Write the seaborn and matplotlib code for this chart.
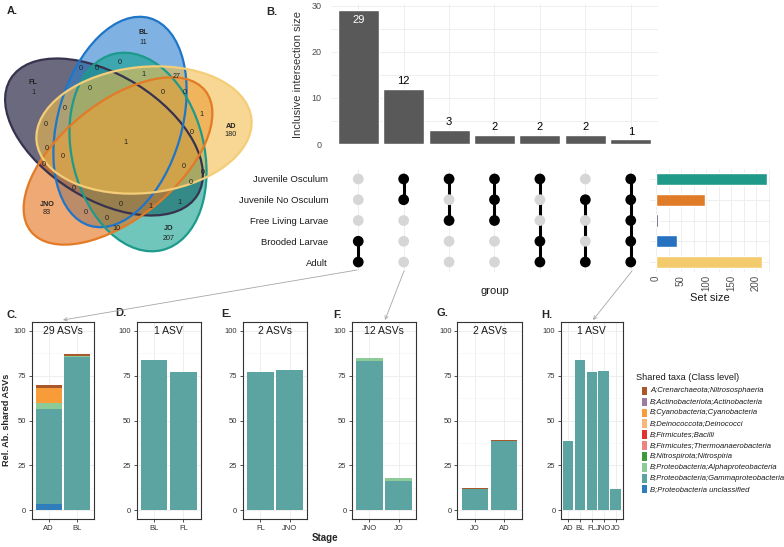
import matplotlib.pyplot as plt
from matplotlib.patches import Ellipse, Rectangle
import pandas as pd
import seaborn as sns

W, H = 784, 547

# ---------- data ----------
# A. Venn diagram of ASVs per life stage
venn_sets = ['FL', 'BL', 'AD', 'JNO', 'JO']
venn_unique = [1, 11, 180, 83, 207]
venn_shared = [0, 0, 0, 1, 27, 0, 0, 0, 0, 1, 0, 0, 1, 0, 0, 0, 0, 0, 0, 0, 0,
               1, 1, 0, 0, 10]

# B. UpSet plot
upset_rows = ['Juvenile Osculum', 'Juvenile No Osculum', 'Free Living Larvae',
              'Brooded Larvae', 'Adult']
upset_sizes = [29, 12, 3, 2, 2, 2, 1]
upset_members = [
    ['Brooded Larvae', 'Adult'],
    ['Juvenile Osculum', 'Juvenile No Osculum'],
    ['Juvenile Osculum', 'Free Living Larvae'],
    ['Juvenile Osculum', 'Juvenile No Osculum', 'Free Living Larvae'],
    ['Juvenile Osculum', 'Brooded Larvae', 'Adult'],
    ['Juvenile No Osculum', 'Adult'],
    ['Juvenile Osculum', 'Juvenile No Osculum', 'Free Living Larvae',
     'Brooded Larvae', 'Adult'],
]
set_sizes = [221, 97, 4, 42, 211]

# C-H. relative abundance of shared ASVs
taxa = ['A;Crenarchaeota;Nitrososphaeria', 'B;Actinobacteriota;Actinobacteria',
        'B;Cyanobacteria;Cyanobacteria', 'B;Deinococcota;Deinococci',
        'B;Firmicutes;Bacilli', 'B;Firmicutes;Thermoanaerobacteria',
        'B;Nitrospirota;Nitrospiria', 'B;Proteobacteria;Alphaproteobacteria',
        'B;Proteobacteria;Gammaproteobacteria', 'B;Proteobacteria unclassified']
taxa_colors = ['#a9582a', '#9c7ca0', '#f89c3a', '#f9b878', '#e3312e',
               '#f08282', '#3e9a3a', '#8ccb98', '#5ba4a1', '#2f7dba']

c_stages = ['AD', 'BL']
c_crenarch = [1.8, 1.1]
c_cyano = [8.3, 0.0]
c_alpha = [3.4, 0.8]
c_gamma = [53.3, 85.4]
c_unclass = [3.3, 0.0]

d_stages = ['BL', 'FL']
d_gamma = [84.0, 77.0]

e_stages = ['FL', 'JNO']
e_gamma = [77.3, 78.0]

f_stages = ['JNO', 'JO']
f_alpha = [1.7, 2.0]
f_gamma = [83.3, 16.1]

g_stages = ['JO', 'AD']
g_crenarch = [0.7, 0.7]
g_gamma = [11.7, 38.3]

h_stages = ['AD', 'BL', 'FL', 'JNO', 'JO']
h_gamma = [38.3, 83.9, 77.2, 77.8, 12.0]

panel_titles = ['29 ASVs', '1 ASV', '2 ASVs', '12 ASVs', '2 ASVs', '1 ASV']

# ---------- style ----------
sns.set_theme(style='white')
plt.rcParams['font.family'] = ['Liberation Sans', 'DejaVu Sans']

venn_edge = ['#37334f', '#1f76c8', '#f4cd78', '#e27a26', '#1d9a8b']
venn_fill = ['#1c1838', '#2a7fcf', '#f2bd4c', '#e5711a', '#12a08e']
venn_alpha = [0.65, 0.6, 0.6, 0.6, 0.6]
venn_draw_order = [0, 1, 4, 3, 2]
set_colors = ['#1f9a89', '#e07b28', '#2c2945', '#2672c0', '#f3cb6d']

# layout in pixels: ellipse (cx, cy, semi-major, semi-minor, angle)
venn_shapes = [(104, 137, 110, 62, 32), (120, 122, 108, 62, -74),
               (144, 130, 108, 63, -6), (118, 161, 112, 58, -39),
               (138, 152, 101, 66, 76)]
venn_set_spots = [(33, 83), (143, 33), (231, 126), (47, 204), (169, 229)]
venn_shared_spots = [(120, 62), (81, 69), (97, 69), (143, 75), (177, 77),
                     (90, 88), (163, 92), (185, 93), (65, 109), (201, 115),
                     (46, 125), (192, 132), (125, 142), (47, 148), (63, 157),
                     (44, 164), (184, 166), (203, 172), (191, 183), (74, 188),
                     (121, 204), (150, 207), (179, 203), (86, 212), (107, 219),
                     (116, 228)]

fig = plt.figure(figsize=(W / 100, H / 100), dpi=100)


def px_axes(x0, y0, x1, y1):
    return fig.add_axes([x0 / W, 1 - y1 / H, (x1 - x0) / W, (y1 - y0) / H])


# overlay in pixel coordinates for venn, letters, arrows and legend
ov = px_axes(0, 0, W, H)
ov.set_xlim(0, W)
ov.set_ylim(H, 0)
ov.axis('off')
ov.patch.set_alpha(0)
ov.set_zorder(5)

# ---------- A. Venn ----------
for k in venn_draw_order:
    cx, cy, a, b, ang = venn_shapes[k]
    ov.add_patch(Ellipse((cx, cy), 2 * a, 2 * b, angle=ang, facecolor=venn_fill[k],
                         alpha=venn_alpha[k], edgecolor='none'))
for k in venn_draw_order:
    cx, cy, a, b, ang = venn_shapes[k]
    ov.add_patch(Ellipse((cx, cy), 2 * a, 2 * b, angle=ang, fill=False,
                         edgecolor=venn_edge[k], lw=1.6))
for name, n, (x, y) in zip(venn_sets, venn_unique, venn_set_spots):
    ov.text(x, y, name, ha='center', va='center', fontsize=5.2, fontweight='bold', color='#222222')
    ov.text(x, y + 9, str(n), ha='center', va='center', fontsize=5.2, color='#222222')
for n, (x, y) in zip(venn_shared, venn_shared_spots):
    ov.text(x, y, str(n), ha='center', va='center', fontsize=5.2, color='#222222')

# ---------- B. UpSet ----------
cols = list(range(len(upset_sizes)))
ax_b = px_axes(331, 4, 658, 144)
sns.barplot(x=cols, y=upset_sizes, order=cols, color='#595959', saturation=1,
            width=0.9, errorbar=None, ax=ax_b, zorder=2)
for i, v in zip(cols, upset_sizes):
    if v > 20:
        ax_b.text(i, v - 1.0, str(v), ha='center', va='top', color='white', fontsize=8)
    else:
        ax_b.text(i, v + 0.6, str(v), ha='center', va='bottom', color='black', fontsize=8)
ax_b.set_xlim(-0.6, 6.6)
ax_b.set_ylim(0, 30.4)
ax_b.set_yticks([0, 10, 20, 30])
ax_b.set_yticks([5, 15, 25], minor=True)
ax_b.set_xticks(cols)
ax_b.set_xticklabels([])
ax_b.grid(True, which='both', color='#ebebeb', lw=0.6)
ax_b.set_axisbelow(True)
ax_b.tick_params(length=0, labelsize=6.5, labelcolor='#4d4d4d', pad=7)
ax_b.set_ylabel('Inclusive intersection size', fontsize=8, color='#333333', labelpad=6)
ax_b.set_xlabel('')
sns.despine(ax=ax_b, left=True, bottom=True)

# matrix
ax_m = px_axes(331, 168.6, 658, 272.4)
cells = pd.DataFrame([(c, r, upset_rows[r] in upset_members[c])
                      for c in cols for r in range(len(upset_rows))],
                     columns=['col', 'row', 'member'])
for c in cols:
    rows_in = [upset_rows.index(m) for m in upset_members[c]]
    if len(rows_in) > 1:
        ax_m.plot([c, c], [min(rows_in), max(rows_in)], color='black', lw=2.2, zorder=2)
sns.scatterplot(data=cells, x='col', y='row', hue='member',
                palette={False: '#d6d6d6', True: 'black'}, s=60, linewidth=0,
                legend=False, ax=ax_m, zorder=3)
ax_m.set_xlim(-0.6, 6.6)
ax_m.set_ylim(4.5, -0.5)
ax_m.set_xticks(cols)
ax_m.set_xticklabels([])
ax_m.set_yticks(range(len(upset_rows)))
ax_m.set_yticklabels(upset_rows)
ax_m.grid(True, axis='x', color='#ebebeb', lw=0.6)
ax_m.set_axisbelow(True)
ax_m.tick_params(length=0, labelsize=6.8, labelcolor='#1a1a1a', pad=2)
ax_m.set_ylabel('')
ax_m.set_xlabel('group', fontsize=8, color='#1a1a1a', labelpad=8)
sns.despine(ax=ax_m, left=True, bottom=True)

# set size
ax_s = px_axes(650, 168.6, 770, 272.4)
sns.barplot(x=set_sizes, y=upset_rows, hue=upset_rows, palette=set_colors,
            saturation=1, width=0.6, orient='h', legend=False, errorbar=None,
            ax=ax_s, zorder=2)
ax_s.set_xlim(-12, 228)
ax_s.set_ylim(4.5, -0.5)
ax_s.set_xticks([0, 50, 100, 150, 200])
ax_s.set_xticks([25, 75, 125, 175, 225], minor=True)
ax_s.set_yticks(range(len(upset_rows)))
ax_s.set_yticklabels([])
ax_s.grid(True, which='both', color='#ebebeb', lw=0.6)
ax_s.set_axisbelow(True)
ax_s.tick_params(length=0, labelsize=7, labelcolor='#4d4d4d', pad=2)
ax_s.tick_params(axis='x', labelrotation=90)
ax_s.set_ylabel('')
ax_s.set_xlabel('Set size', fontsize=8, color='#1a1a1a', labelpad=1)
sns.despine(ax=ax_s, left=True, bottom=True)

# ---------- C-H. stacked relative abundance ----------
panels = [
    (c_stages, [(0, c_crenarch), (2, c_cyano), (7, c_alpha), (8, c_gamma), (9, c_unclass)]),
    (d_stages, [(8, d_gamma)]),
    (e_stages, [(8, e_gamma)]),
    (f_stages, [(7, f_alpha), (8, f_gamma)]),
    (g_stages, [(0, g_crenarch), (8, g_gamma)]),
    (h_stages, [(8, h_gamma)]),
]
panel_boxes = [(31.7, 94.3), (136.7, 201), (242.7, 307.3), (352, 416),
               (457.3, 521.7), (561, 622.7)]
panel_letters = ['C.', 'D.', 'E.', 'F.', 'G.', 'H.']
letter_spots = [(7, 315), (115, 313), (221, 314), (333, 315), (437, 313), (541, 315)]

for (stages, layers), (x0, x1), title in zip(panels, panel_boxes, panel_titles):
    ax = px_axes(x0, 322, x1, 519)
    df = pd.DataFrame({taxa[t]: v for t, v in layers}, index=stages)
    tops = df[df.columns[::-1]].cumsum(axis=1)
    for t, _ in layers:
        sns.barplot(x=stages, y=list(tops[taxa[t]]), order=stages,
                    color=taxa_colors[t], saturation=1, width=0.9,
                    errorbar=None, linewidth=0, ax=ax, zorder=2)
    ax.set_xlim(-0.6, len(stages) - 0.4)
    ax.set_ylim(-5, 105)
    ax.set_yticks([0, 25, 50, 75, 100])
    ax.set_yticks([12.5, 37.5, 62.5, 87.5], minor=True)
    ax.grid(True, which='major', color='#ebebeb', lw=0.6)
    ax.grid(True, which='minor', color='#f3f3f3', lw=0.4)
    ax.set_axisbelow(True)
    ax.tick_params(axis='both', which='major', length=2.5, width=0.6,
                   color='#333333', labelsize=5.5, labelcolor='#333333', pad=1.5)
    ax.tick_params(which='minor', length=0)
    ax.tick_params(axis='x', bottom=True)
    ax.tick_params(axis='y', left=True)
    for sp in ax.spines.values():
        sp.set_visible(True)
        sp.set_color('#333333')
        sp.set_linewidth(0.8)
    ax.set_xlabel('')
    ax.set_ylabel('')
    ax.text(0.5, 0.955, title, transform=ax.transAxes, ha='center', va='center',
            fontsize=7.5, color='#1a1a1a')

fig.text(7 / W, 1 - 420 / H, 'Rel. Ab. shared ASVs', rotation=90, ha='center',
         va='center', fontsize=6.6, fontweight='bold')
fig.text(325 / W, 1 - 538 / H, 'Stage', ha='center', va='center', fontsize=7,
         fontweight='bold')

# panel letters
for lab, (x, y) in zip(['A.', 'B.'] + panel_letters,
                       [(7, 11), (266, 12)] + letter_spots):
    ov.text(x, y, lab, ha='left', va='center', fontsize=8, fontweight='bold')

# arrows from UpSet columns to bar panels
for (xs, ys), (xe, ye) in [((357, 270), (63, 320)), ((404, 271), (385, 320)),
                           ((632, 271), (593, 320))]:
    ov.annotate('', xy=(xe, ye), xytext=(xs, ys),
                arrowprops=dict(arrowstyle='->', color='#a6a6a6', lw=0.6,
                                mutation_scale=6, shrinkA=0, shrinkB=0))

# legend
ov.text(636, 377, 'Shared taxa (Class level)', ha='left', va='center', fontsize=6.6,
        color='#1a1a1a')
for i, (name, col) in enumerate(zip(taxa, taxa_colors)):
    y = 391 + i * 10.9
    ov.add_patch(Rectangle((642, y - 4.3), 5.5, 8.6, facecolor=col, edgecolor='none'))
    ov.text(650, y, name, ha='left', va='center', fontsize=5.5, style='italic',
            color='#1a1a1a')

fig.savefig('out.png', dpi=100)
